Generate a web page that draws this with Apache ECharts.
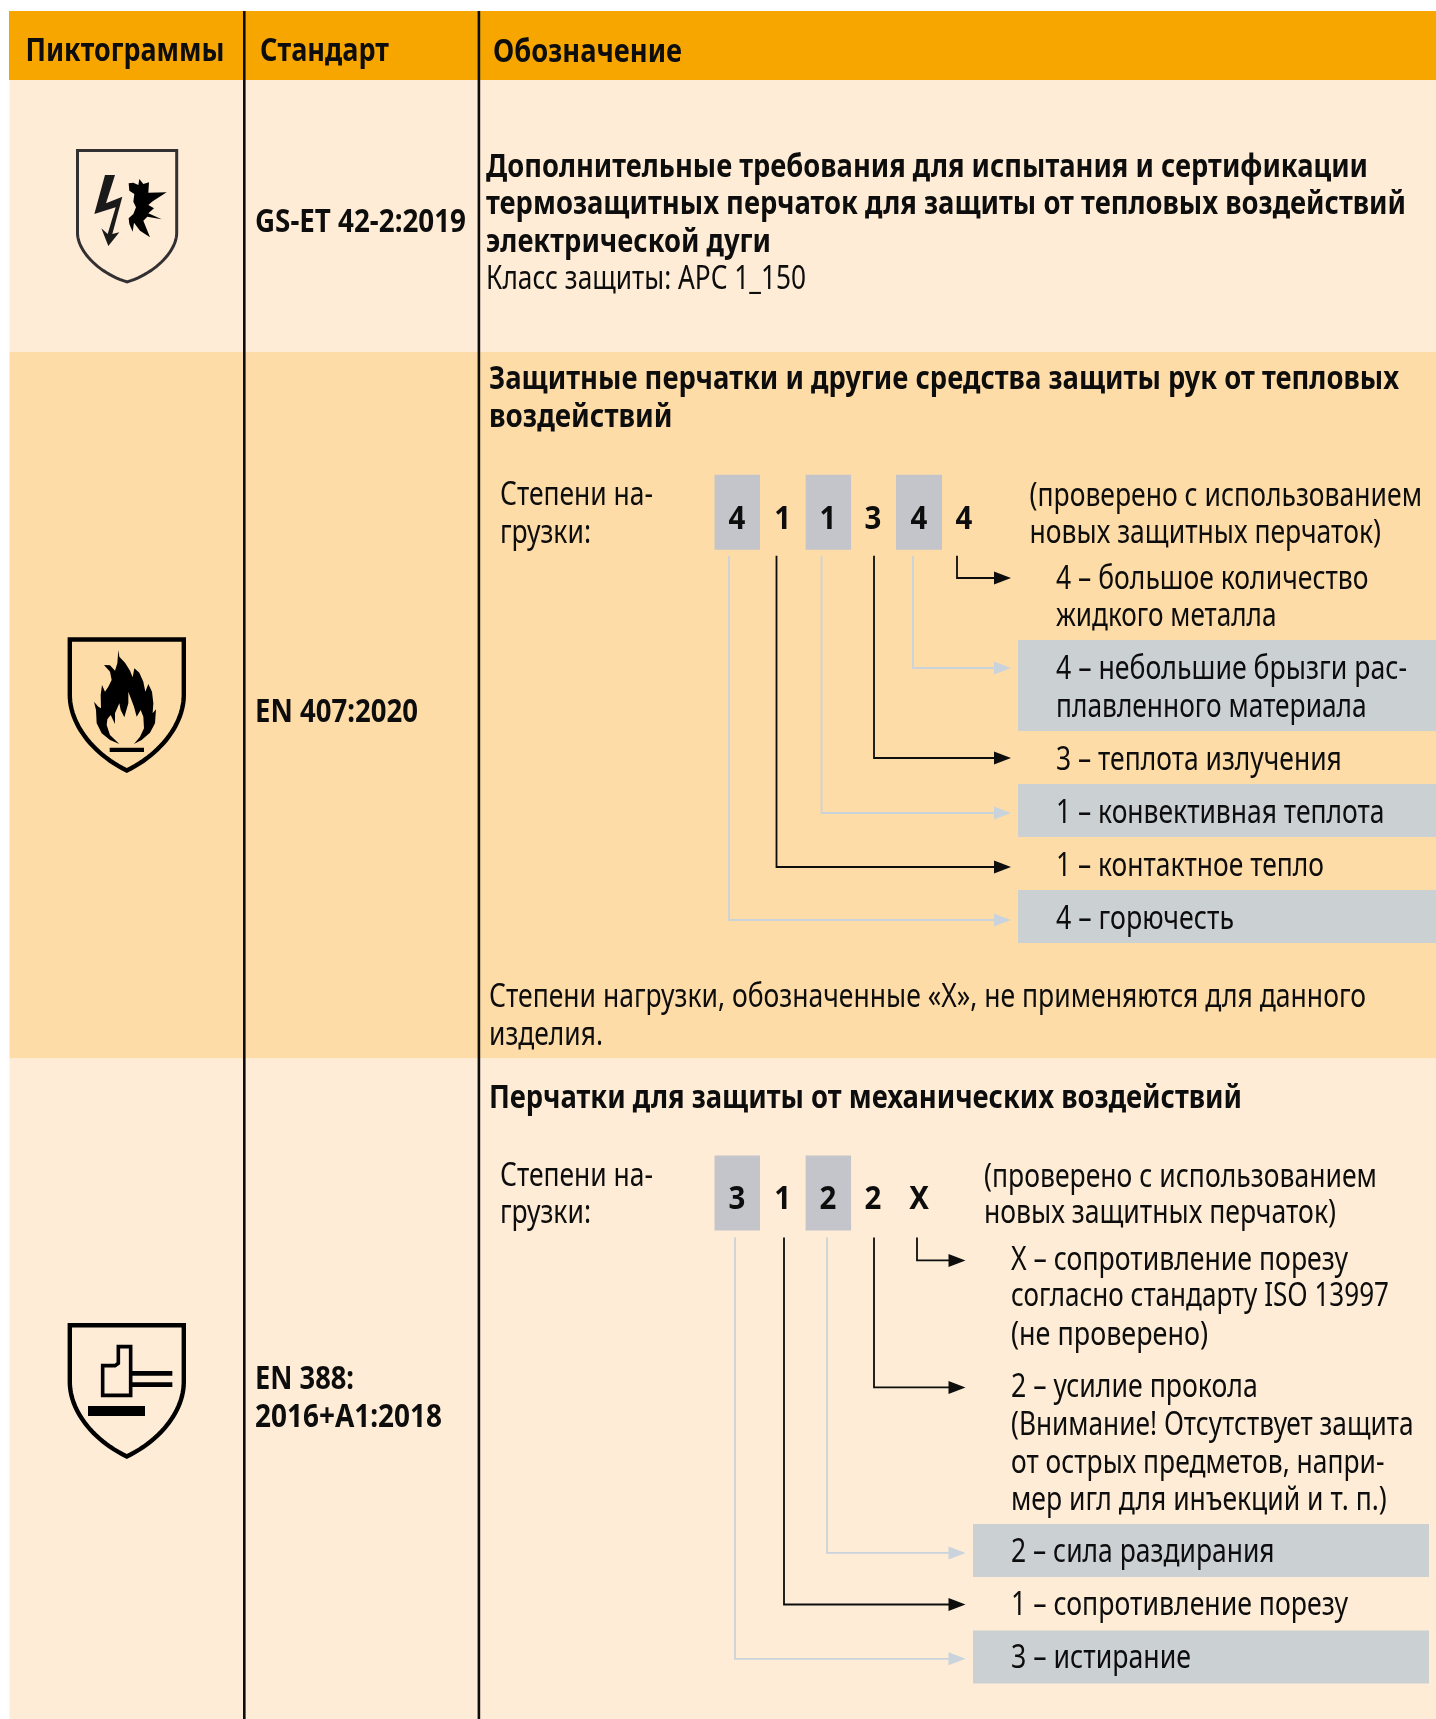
<!DOCTYPE html>
<html><head><meta charset="utf-8">
<style>html,body{margin:0;padding:0;background:#fff}#c{width:1436px;height:1719px}</style>
<script src="https://cdn.jsdelivr.net/npm/echarts@6/dist/echarts.min.js"></script>
</head><body><div id="c"></div>
<script>
// ---------- content ----------
const headers = ['Пиктограммы', 'Стандарт', 'Обозначение'];
const standards = ['GS-ET 42-2:2019', 'EN 407:2020', 'EN 388:', '2016+A1:2018'];
const arcText = ['Дополнительные требования для испытания и сертификации',
  'термозащитных перчаток для защиты от тепловых воздействий',
  'электрической дуги', 'Класс защиты: АРС 1_150'];
const heatTitle = ['Защитные перчатки и другие средства защиты рук от тепловых', 'воздействий'];
const loadLabel = ['Степени на-', 'грузки:'];
const heatDigits = ['4', '1', '1', '3', '4', '4'];
const testedNote = ['(проверено с использованием', 'новых защитных перчаток)'];
const heatLegend = ['4 – большое количество', 'жидкого металла', '4 – небольшие брызги рас-',
  'плавленного материала', '3 – теплота излучения', '1 – конвективная теплота',
  '1 – контактное тепло', '4 – горючесть'];
const heatFoot = ['Степени нагрузки, обозначенные «X», не применяются для данного', 'изделия.'];
const mechTitle = ['Перчатки для защиты от механических воздействий'];
const mechDigits = ['3', '1', '2', '2', 'X'];
const mechLegend = ['X – сопротивление порезу', 'согласно стандарту ISO 13997', '(не проверено)',
  '2 – усилие прокола', '(Внимание! Отсутствует защита', 'от острых предметов, напри-',
  'мер игл для инъекций и т. п.)', '2 – сила раздирания', '1 – сопротивление порезу', '3 – истирание'];

// ---------- layout and style ----------
const C = {head:'#F7A600', light:'#FEECD6', mid:'#FEDCA8', box:'#C3C5CA', band:'#CBD0D3', pale:'#C9D3DB', ink:'#0d0d0d'};
const FAM = '"Noto Sans"';
const fontB = 'condensed 700 32px ' + FAM, fontR = 'condensed 400 32px ' + FAM;
const TY = 1.6; // vertical nudge of text relative to the em-box middle
const mctx = document.createElement('canvas').getContext('2d');
const els = [];
const rect = (x, y, w, h, fill) => els.push({type:'rect', shape:{x, y, width:w, height:h}, style:{fill}, silent:true});
function text(s, x, y, right, bold) {
  const font = bold ? fontB : fontR;
  mctx.font = font;
  const w = mctx.measureText(s).width;
  els.push({type:'text', x, y:y + TY, scaleX:(right - x) / w, silent:true,
    style:{text:s, font, fill:C.ink, textAlign:'left', textVerticalAlign:'middle'}});
}
function poly(points, fill, stroke, lw, closed) {
  els.push({type: closed === false ? 'polyline' : 'polygon', shape:{points}, silent:true,
    style: {fill: fill || null, stroke: stroke || null, lineWidth: lw || 0, lineJoin:'miter'}});
}
function arrow(x, y0, y1, tip, color) {
  poly([[x, y0], [x, y1], [tip - 14, y1]], null, color, 1.8, false);
  poly([[tip - 17, y1 - 6.5], [tip, y1], [tip - 17, y1 + 6.5]], color);
}
function digit(s, cx, y) {
  els.push({type:'text', x:cx, y:y + TY, scaleX:0.92, silent:true,
    style:{text:s, font:fontB, fill:C.ink, textAlign:'center', textVerticalAlign:'middle'}});
}
function shield(x0, x1, top, ys, tip, c1, c2, lw, color) {
  const cx = (x0 + x1) / 2, pts = [[x0, top], [x1, top]];
  const side = (sx, a) => { const out = [];
    for (let i = 0; i <= 24; i++) { const t = i / 24, u = 1 - t;
      out.push([u*u*u*sx + 3*u*u*t*sx + 3*u*t*t*(sx + (cx - sx) * a) + t*t*t*cx,
                u*u*u*ys + 3*u*u*t*(ys + (tip - ys) * c1) + 3*u*t*t*(ys + (tip - ys) * c2) + t*t*t*tip]); }
    return out; };
  pts.push(...side(x1, 0.38));
  pts.push(...side(x0, 0.38).reverse());
  poly(pts, null, color, lw);
}
const z = (pts, oy) => pts.map(p => [p[0] / 3, (oy || 0) + p[1] / 3]);

// backgrounds
rect(9, 11, 1427, 69, C.head);
rect(9.5, 80, 1426.5, 272, C.light);
rect(9.5, 352, 1426.5, 706.5, C.mid);
rect(9.5, 1058.5, 1426.5, 660.5, C.light);
// column rules
rect(243, 11, 2.6, 1708, C.ink);
rect(477.6, 11, 2.6, 1708, C.ink);

// header
[[25.5, 50, 224.5], [260, 50, 389], [493, 51, 682]].forEach((l, i) => text(headers[i], l[0], l[1], l[2], true));
// standards
[[255, 221.5, 466], [255, 711.5, 418], [255, 1378.5, 354], [255, 1416.5, 442]].forEach((l, i) => text(standards[i], l[0], l[1], l[2], true));

// row 1
[[486, 166, 1368, 1], [486, 203, 1406, 1], [486, 241, 771, 1], [486, 278, 806, 0]].forEach((l, i) => text(arcText[i], l[0], l[1], l[2], !!l[3]));

// row 2
[[489, 378, 1399], [489, 416, 672.5]].forEach((l, i) => text(heatTitle[i], l[0], l[1], l[2], true));
[[500, 494, 653], [500, 532, 591]].forEach((l, i) => text(loadLabel[i], l[0], l[1], l[2], false));
[[714.5, 45.5], [805.6, 45.5], [896, 46]].forEach(b => rect(b[0], 474.7, b[1], 75, C.box));
[[1018, 640, 91], [1018, 784, 53], [1018, 890, 53]].forEach(b => rect(b[0], b[1], 418, b[2], C.band));
const dx = [737, 782.6, 828, 873, 919, 964];
heatDigits.forEach((d, i) => digit(d, dx[i], 518));
[[1029.5, 495, 1422], [1029.5, 532, 1381]].forEach((l, i) => text(testedNote[i], l[0], l[1], l[2], false));
[[957, 578, 1], [913, 668, 0], [874, 758, 1], [821.6, 813, 0], [776.5, 867, 1], [729, 920, 0]].forEach(a =>
  arrow(a[0], 555.7, a[1], 1011, a[2] ? C.ink : C.pale));
[[578, 1368.5], [615, 1276.5], [668.7, 1407], [706.7, 1366.7], [759, 1341.8], [812, 1384.5], [865.7, 1324], [918, 1234]]
  .forEach((l, i) => text(heatLegend[i], 1056, l[0], l[1], false));
[[489, 996, 1366], [489, 1034.5, 603]].forEach((l, i) => text(heatFoot[i], l[0], l[1], l[2], false));

// row 3
text(mechTitle[0], 489, 1097, 1242, true);
[[500, 1175, 653], [500, 1212, 591]].forEach((l, i) => text(loadLabel[i], l[0], l[1], l[2], false));
[[714.5, 45.5], [805.6, 45.5]].forEach(b => rect(b[0], 1155.5, b[1], 75, C.box));
[[1524, 53], [1630.4, 53]].forEach(b => rect(973, b[0], 456, b[1], C.band));
mechDigits.forEach((d, i) => digit(d, dx[i], 1198.5));
[[984, 1176, 1377], [984, 1212.7, 1336]].forEach((l, i) => text(testedNote[i], l[0], l[1], l[2], false));
[[917, 1260.4, 1], [874, 1387.4, 1], [827, 1552.9, 0], [784, 1604.5, 1], [735, 1658.8, 0]].forEach(a =>
  arrow(a[0], 1237.5, a[1], 965.5, a[2] ? C.ink : C.pale));
[[1259, 1348], [1295, 1389], [1334, 1208], [1386.7, 1257.7], [1424, 1413.6], [1462, 1384.5], [1499, 1386.8], [1551.7, 1274.6], [1604.5, 1348], [1657.7, 1191]]
  .forEach((l, i) => text(mechLegend[i], 1011, l[0], l[1], false));

// pictograms
shield(77.5, 176.7, 150.5, 233, 282, 0.34, 0.8, 3, '#333033');
poly(z([[315,525],[345,525],[318,610],[367,590],[337,702],[358,697],[325,738],[304,685],[323,702],[347,622],[283,642]]), '#1a1a1a');
poly(z([[386,550],[400,548],[415,555],[418,537],[430,552],[447,547],[445,578],[500,577],[458,604],[445,615],[462,625],[445,640],[485,658],[442,650],[430,662],[450,712],[420,692],[402,668],[398,695],[388,672],[386,655],[400,642],[408,622],[400,605],[403,582],[388,572]]), '#000');

shield(69.8, 183.8, 639.5, 695, 770.5, 0.37, 0.77, 4.4, '#000');
poly(z([[355,150],[358,170],[375,188],[390,212],[398,232],[403,205],[418,218],[430,245],[436,275],[445,252],[456,275],[460,310],[458,340],[468,328],[465,370],[450,398],[425,420],[402,432],[420,410],[432,385],[430,350],[422,330],[410,350],[402,320],[385,275],[385,310],[373,352],[362,330],[358,310],[345,340],[345,372],[332,345],[322,358],[320,375],[330,405],[358,432],[330,420],[305,400],[290,370],[288,330],[282,305],[295,320],[303,325],[302,285],[306,255],[315,275],[325,260],[335,240],[330,215],[312,195],[330,196],[345,212],[352,190]], 600), '#000');
rect(329 / 3, 600 + 443 / 3, 103 / 3, 13 / 3, '#000');

shield(69.8, 183.8, 1325.2, 1382, 1456.5, 0.37, 0.77, 4.4, '#000');
poly(z([[308,197],[345,197],[355,190],[355,140],[392,140],[392,286],[308,286]], 1300), null, '#000', 3.6);
rect(392 / 3, 1300 + 213 / 3, 125 / 3, 14 / 3, '#000');
rect(392 / 3, 1300 + 247 / 3, 125 / 3, 14 / 3, '#000');
rect(264 / 3, 1300 + 318 / 3, 171 / 3, 30 / 3, '#000');

const chart = echarts.init(document.getElementById('c'), null, {renderer:'canvas', width:1436, height:1719});
chart.setOption({animation:false, graphic:{elements:els}});
</script></body></html>
